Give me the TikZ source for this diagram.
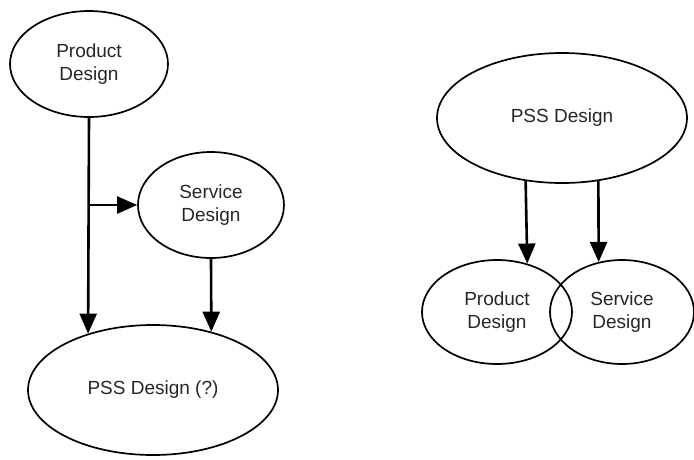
\documentclass[tikz,border=0pt]{standalone}
\usepackage{fontspec}
\setmainfont{Liberation Sans}
\usetikzlibrary{shapes.geometric,arrows.meta}

\tikzset{
  design/.style={draw, ellipse, line width=1.7pt, inner sep=0pt, align=center,
    text=black!85, font=\fontsize{19}{23}\selectfont},
  flow/.style={-{Triangle[length=20pt,width=17pt]}, line width=2.6pt},
}

\begin{document}
\begin{tikzpicture}[x=1pt,y=-1pt]
	\useasboundingbox (0,0) rectangle (694,459);
	% left: service added to the product
	\node[design, minimum width=158pt, minimum height=106pt] (prodL) at (89,64) {Product\\Design};
	\node[design, minimum width=146pt, minimum height=106pt] (servL) at (211,205) {Service\\Design};
	\node[design, minimum width=250pt, minimum height=130pt] (pssL) at (153,390) {PSS Design (?)};
	\draw[flow] (prodL.south) -- (pssL.139);
	\draw[flow] (prodL.south |- servL.west) -- (servL.west);
	\draw[flow] (servL.south) -- (pssL.45);
	% right: product and service from one design
	\node[design, minimum width=250pt, minimum height=130pt] (pssR) at (562,118) {PSS Design};
	\node[design, minimum width=150pt, minimum height=104pt] (prodR) at (497,312) {Product\\Design};
	\node[design, minimum width=144pt, minimum height=104pt] (servR) at (622,312) {Service\\Design};
	\draw[flow] (pssR.240) -- (prodR.58);
	\draw[flow] (pssR.300) -- (servR.115);
\end{tikzpicture}
\end{document}
